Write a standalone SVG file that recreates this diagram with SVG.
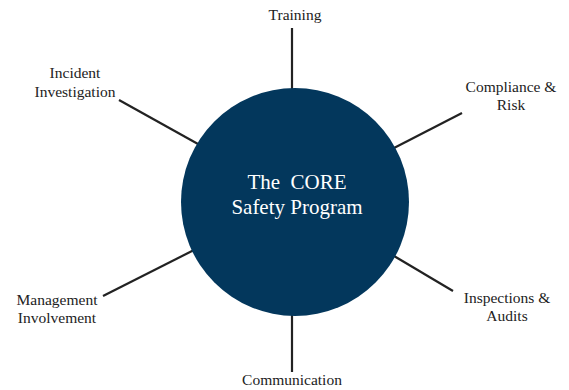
<svg xmlns="http://www.w3.org/2000/svg" width="569" height="390" viewBox="0 0 569 390">
<style>
.lbl{font-family:"Liberation Serif","DejaVu Serif",serif;font-size:15.5px;fill:#222;text-anchor:middle}
.ctr{font-family:"Liberation Serif","DejaVu Serif",serif;font-size:21px;fill:#fff;text-anchor:middle}
.con{stroke:#222;stroke-width:2.2;fill:none}
</style>
<rect width="569" height="390" fill="#fff"/>
<g id="connectors">
<line class="con" x1="292" y1="28" x2="292" y2="90"/>
<line class="con" x1="292" y1="314" x2="292" y2="372"/>
<line class="con" x1="119" y1="100" x2="198" y2="144"/>
<line class="con" x1="462" y1="113" x2="394" y2="148"/>
<line class="con" x1="103" y1="296" x2="194" y2="250"/>
<line class="con" x1="394" y1="256" x2="453" y2="291"/>
</g>
<g id="core">
<circle cx="295" cy="202" r="114" fill="#03375c"/>
<text class="ctr" x="297" y="189" xml:space="preserve">The  CORE</text>
<text class="ctr" x="297" y="214">Safety Program</text>
</g>
<g id="training"><text class="lbl" x="295" y="20">Training</text></g>
<g id="compliance"><text class="lbl" x="511" y="92">Compliance &amp;</text><text class="lbl" x="511" y="110">Risk</text></g>
<g id="inspections"><text class="lbl" x="507" y="303">Inspections &amp;</text><text class="lbl" x="507" y="321">Audits</text></g>
<g id="communication"><text class="lbl" x="292" y="385">Communication</text></g>
<g id="management"><text class="lbl" x="57" y="305">Management</text><text class="lbl" x="57" y="323">Involvement</text></g>
<g id="incident"><text class="lbl" x="75" y="78">Incident</text><text class="lbl" x="75" y="97">Investigation</text></g>
</svg>
